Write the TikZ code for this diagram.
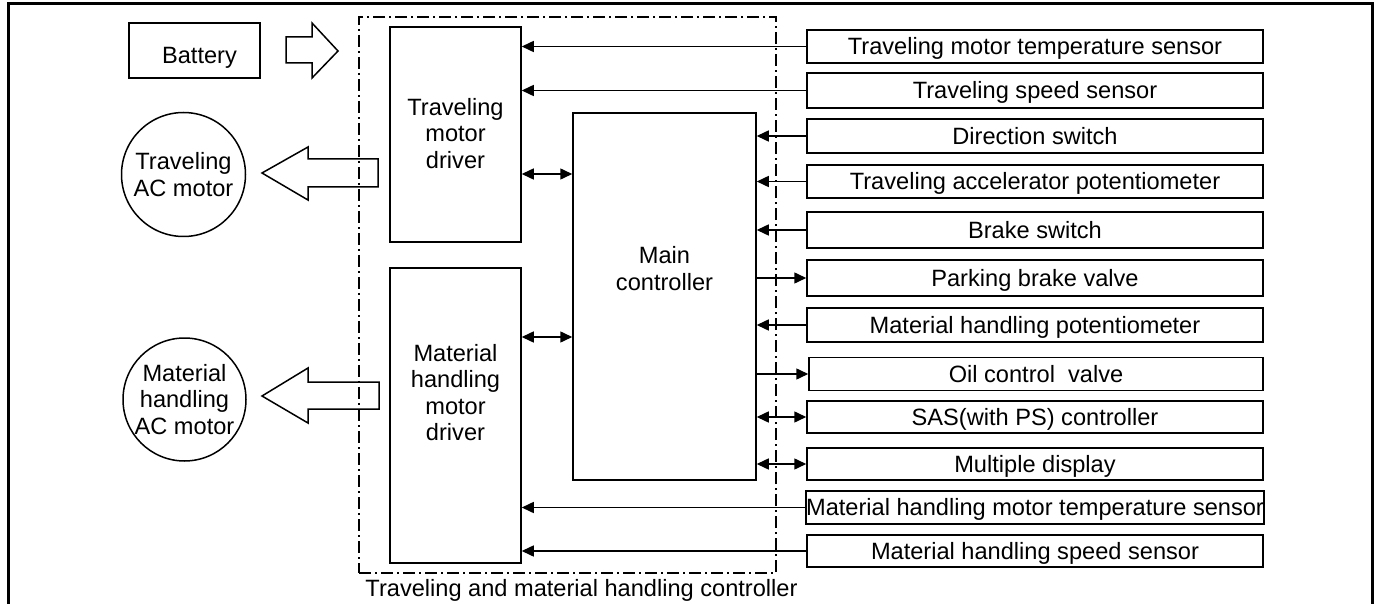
\documentclass[tikz,border=0pt]{standalone}
\usepackage{fontspec}
\setmainfont{Liberation Sans}
\usetikzlibrary{arrows.meta}
\newcommand\dgfs{\fontsize{23.6}{26.6}\selectfont}
\tikzset{
  box/.style={draw, line width=1.5pt, rectangle, inner sep=0pt},
  sbox/.style={box, minimum width=456pt, text height=16.9pt, text depth=0pt, font=\dgfs},
  lbl/.style={align=center, inner sep=0pt, font=\dgfs},
  conn/.style={line width=1.5pt},
  tipr/.style={-{Triangle[length=12pt,width=11pt]}},
  tipb/.style={{Triangle[length=12pt,width=11pt]}-{Triangle[length=12pt,width=11pt]}},
  blockarrow/.style={draw, line width=1.5pt, line join=miter},
  dashdot/.style={draw, line width=1.3pt, dash pattern=on 12pt off 4pt on 2pt off 4pt}
}
\begin{document}
\begin{tikzpicture}[x=1pt, y=-1pt]
\useasboundingbox[fill=white] (0,0) rectangle (1379,604);
% outer frame
\draw[line width=3pt] (8,640) -- (8,3.5) -- (1372,3.5) -- (1372,640);

% controller frame
\node[dashdot, minimum width=417pt, minimum height=556pt, inner sep=0pt] (ctrl) at (567.5,295) {};
\node[lbl, text height=16.9pt, text depth=0pt] (ctrlL) at (581.5,588) {Traveling and material handling controller};

% battery
\node[box, minimum width=131pt, minimum height=55pt] (bat) at (194.5,50.5) {};
\node[lbl, text height=16.9pt, text depth=0pt] (batL) at (199.5,55) {Battery};
\draw[blockarrow] (286,37) -- (312,37) -- (312,23) -- (338,51) -- (312,78) -- (312,63) -- (286,63) -- cycle;

% motors
\node[draw, circle, line width=1.5pt, minimum size=124pt, lbl] (tac) at (183.5,174.5) {Traveling\\AC motor};
\node[draw, circle, line width=1.5pt, minimum size=123pt, lbl] (mac) at (184.5,399.5) {Material\\handling\\AC motor};
\draw[blockarrow] (378,159) -- (308,159) -- (308,147) -- (262,173) -- (308,200) -- (308,187) -- (378,187) -- cycle;
\draw[blockarrow] (379,382) -- (308,382) -- (308,368) -- (262,396) -- (308,423) -- (308,409) -- (379,409) -- cycle;

% drivers and main controller
\node[box, minimum width=131pt, minimum height=215pt] (tdrv) at (455.5,134.5) {};
\node[lbl] (tdrvL) at (455.5,133.5) {Traveling\\motor\\driver};
\node[box, minimum width=131pt, minimum height=295pt] (mdrv) at (455.5,415.5) {};
\node[lbl] (mdrvL) at (455.5,392.5) {Material\\handling\\motor\\driver};
\node[box, minimum width=183pt, minimum height=367pt] (main) at (664.5,296.5) {};
\node[lbl] (mainL) at (664.5,268.5) {Main\\controller};

% sensors / actuators
\node[sbox, minimum height=33pt] (s1) at (1035,46.5) {Traveling motor temperature sensor};
\node[sbox, minimum height=35pt] (s2) at (1035,90.5) {Traveling speed sensor};
\node[sbox, minimum height=34pt] (s3) at (1035,136) {Direction switch};
\node[sbox, minimum height=33pt] (s4) at (1035,181.5) {Traveling accelerator potentiometer};
\node[sbox, minimum height=36pt] (s5) at (1035,230) {Brake switch};
\node[sbox, minimum height=36pt] (s6) at (1035,278) {Parking brake valve};
\node[sbox, minimum height=34pt] (s7) at (1035,325) {Material handling potentiometer};
\node[sbox, minimum height=33pt, minimum width=454pt] (s8) at (1036,374) {Oil control\ \ valve};
\node[sbox, minimum height=32pt] (s9) at (1035,417) {SAS(with PS) controller};
\node[sbox, minimum height=32pt] (s10) at (1035,464) {Multiple display};
\node[sbox, minimum height=33pt] (s11) at (1035,507.5) {Material handling motor temperature sensor};
\node[sbox, minimum height=32pt] (s12) at (1035,551) {Material handling speed sensor};

% connectors
\draw[conn, tipr] (s1.west) -- (s1.west -| tdrv.east);
\draw[conn, tipr] (s2.west) -- (s2.west -| tdrv.east);
\draw[conn, tipr] (s3.west) -- (s3.west -| main.east);
\draw[conn, tipr] (s4.west) -- (s4.west -| main.east);
\draw[conn, tipr] (s5.west) -- (s5.west -| main.east);
\draw[conn, tipr] (s6.west -| main.east) -- (s6.west);
\draw[conn, tipr] (s7.west) -- (s7.west -| main.east);
\draw[conn, tipr] (s8.west -| main.east) -- (s8.west);
\draw[conn, tipb] (s9.west -| main.east) -- (s9.west);
\draw[conn, tipb] (s10.west -| main.east) -- (s10.west);
\draw[conn, tipr] (s11.west) -- (s11.west -| mdrv.east);
\draw[conn, tipr] (s12.west) -- (s12.west -| mdrv.east);
\coordinate (tm) at (547,174);
\coordinate (mm) at (547,337);
\draw[conn, tipb] (tm -| tdrv.east) -- (tm -| main.west);
\draw[conn, tipb] (mm -| mdrv.east) -- (mm -| main.west);
\end{tikzpicture}
\end{document}
